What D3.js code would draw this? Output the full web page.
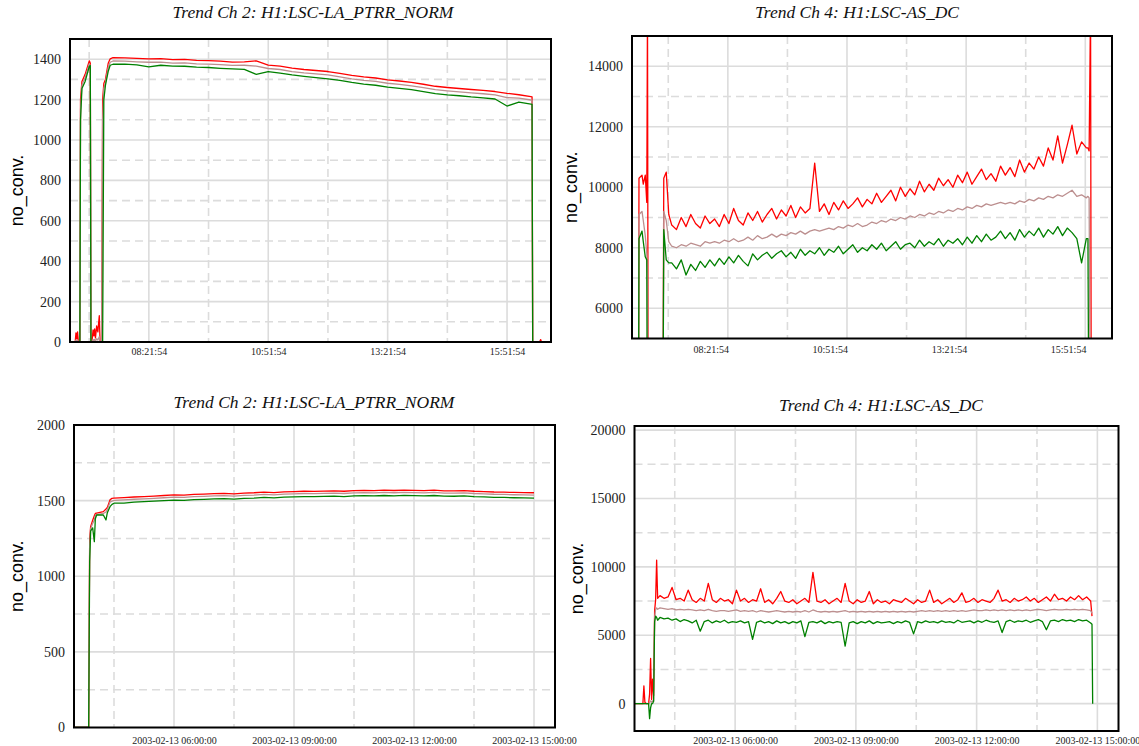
<!DOCTYPE html>
<html>
<head>
<meta charset="utf-8">
<script src="https://cdn.jsdelivr.net/npm/d3@7"></script>
<style>
  body { margin: 0; background: #fff; }
  svg { display: block; }
</style>
</head>
<body>
<div id="chart"></div>
<script>
// ---------- data ----------
// time axes
const topStart = "2003-02-13 06:42:50";
const topEnd = "2003-02-13 16:47:08";
const botStart = "2003-02-13 03:30:00";
const botEnd = "2003-02-13 15:31:30";

const topTicks = ["2003-02-13 08:21:54", "2003-02-13 10:51:54", "2003-02-13 13:21:54", "2003-02-13 15:51:54"];
const topGridDash = ["2003-02-13 07:06:54", "2003-02-13 09:36:54", "2003-02-13 12:06:54", "2003-02-13 14:36:54"];
const asTopGrid = ["2003-02-13 08:43:30", "2003-02-13 11:13:30", "2003-02-13 13:43:30", "2003-02-13 16:13:30"];
const asTopGridDash = ["2003-02-13 07:28:30", "2003-02-13 09:58:30", "2003-02-13 12:28:30", "2003-02-13 14:58:30"];
const botTicks = ["2003-02-13 06:00:00", "2003-02-13 09:00:00", "2003-02-13 12:00:00", "2003-02-13 15:00:00"];
const botGridDash = ["2003-02-13 04:30:00", "2003-02-13 07:30:00", "2003-02-13 10:30:00", "2003-02-13 13:30:00"];

// panel 1: Trend Ch 2 (top), minutes after topStart
const laTopMin = [0, 6.5, 7.5, 8.5, 9.5, 10.5, 12.4, 13.2, 15, 19, 24.3, 25.5, 26.3, 27.5, 29, 30, 31, 32, 33.5, 35, 36.8, 37.8, 39.8, 41, 42.5, 44.5, 48, 50.5,
  54, 69, 84, 99, 114, 129, 144, 159, 174, 189, 204, 219, 234, 249, 264, 279, 294, 309, 324, 339, 354, 369, 384, 399, 414, 429, 444, 459, 474, 489, 504, 519, 534, 549, 564, 579,
  580.5, 581.3, 590, 591.3, 592.3, 604.3];
const laTopMax = [0, 0, 45, 15, 50, 0, 0, 1200, 1290, 1325, 1392, 1380, 0, 0, 60, 30, 65, 20, 80, 50, 130, 0, 0, 1200, 1280, 1300, 1380, 1402,
  1408, 1407, 1404, 1402, 1403, 1398, 1399, 1394, 1393, 1390, 1386, 1387, 1392, 1371, 1366, 1356, 1349, 1344, 1339, 1330, 1320, 1312, 1307, 1298, 1292, 1285, 1276, 1266, 1260, 1255, 1250, 1246, 1240, 1231, 1224, 1215,
  1214, 0, 0, 12, 0, 0];
const laTopMean = [0, 0, 10, 3, 10, 0, 0, 1150, 1272, 1308, 1378, 1366, 0, 0, 12, 6, 13, 4, 16, 10, 26, 0, 0, 1100, 1255, 1285, 1360, 1385,
  1391, 1390, 1387, 1385, 1386, 1381, 1382, 1377, 1376, 1373, 1369, 1370, 1366, 1354, 1349, 1339, 1332, 1327, 1322, 1313, 1303, 1295, 1290, 1281, 1275, 1268, 1259, 1249, 1243, 1238, 1233, 1229, 1223, 1210, 1207, 1198,
  1197, 0, 0, 0, 0, 0];
const laTopMinV = [0, 0, 0, 0, 0, 0, 0, 1100, 1255, 1290, 1365, 1368, 0, 0, 0, 0, 0, 0, 0, 0, 0, 0, 0, 0, 1200, 1270, 1340, 1370,
  1375, 1376, 1372, 1362, 1370, 1366, 1365, 1361, 1359, 1355, 1352, 1350, 1325, 1338, 1331, 1322, 1315, 1309, 1303, 1295, 1285, 1277, 1271, 1262, 1256, 1249, 1240, 1230, 1223, 1219, 1213, 1209, 1203, 1168, 1188, 1178,
  1176, 0, 0, 0, 0, 0];

// panel 2: Trend Ch 4 (top), minutes after topStart
const asTopMin = [0, 7.9, 8.8, 12.6, 14.2, 16.7, 18.6, 19.5, 20.5, 38.7, 40, 43.1, 46.3,
  50, 56, 62, 68, 74, 80, 86, 92, 98, 104, 110, 116, 122, 128, 134, 140, 146, 152, 158, 164,
  170, 176, 182, 188, 194, 200, 206, 212, 218, 224, 230, 236, 242, 248, 254, 260, 266, 272, 278, 284,
  290, 296, 302, 308, 314, 320, 326, 332, 338, 344, 350, 356, 362, 368, 374, 380, 386, 392, 398, 404,
  410, 416, 422, 428, 434, 440, 446, 452, 458, 464, 470, 476, 482, 488, 494, 500, 506, 512, 518, 524,
  530, 536, 542, 548, 554, 560, 566, 572,
  574, 575.5, 577.3, 578.3, 604.3];
const asTopMax = [0, 0, 10300, 10400, 10100, 10400, 9500, 16000, 0, 0, 10300, 10500, 9100,
  8750, 8600, 9000, 8700, 9100, 8800, 8650, 9050, 8800, 8950, 8700, 9100, 8800, 9300, 8900, 8750, 9150, 8900, 9200, 8850,
  9100, 9300, 8950, 9250, 9050, 9400, 9000, 9350, 9150, 9300, 10800, 9200, 9450, 9100, 9500, 9250, 9550, 9300, 9450, 9650,
  9350, 9600, 9450, 9800, 9500, 9700, 9900, 9550, 10000, 9700, 9950, 9750, 10200, 9850, 10100, 9900, 10300, 10050, 10250, 10000,
  10400, 10150, 10500, 10100, 10350, 10600, 10250, 10450, 10200, 10700, 10400, 10650, 10350, 10900, 10500, 10800, 10600, 11000, 10700, 11300,
  10900, 11700, 10800, 11400, 12050, 11100, 11500, 11300,
  11300, 11200, 16000, 0, 0];
const asTopMean = [0, 0, 9100, 9200, 8900, 8400, 7800, 7000, 0, 0, 9200, 8900, 8200,
  8050, 8000, 8100, 8050, 8150, 8100, 8050, 8200, 8150, 8200, 8150, 8250, 8200, 8300, 8200, 8250, 8350, 8250, 8400, 8300,
  8350, 8450, 8350, 8450, 8400, 8500, 8450, 8550, 8450, 8550, 8600, 8550, 8600, 8650, 8600, 8700, 8650, 8750, 8700, 8800,
  8700, 8750, 8850, 8800, 8900, 8850, 8950, 8900, 9000, 8950, 9050, 9000, 9100, 9050, 9150, 9100, 9200, 9150, 9250, 9200,
  9300, 9250, 9350, 9300, 9400, 9350, 9450, 9400, 9450, 9500, 9450, 9500, 9450, 9550, 9500, 9600, 9550, 9650, 9600, 9700,
  9650, 9750, 9700, 9800, 9900, 9700, 9750, 9650,
  9700, 9650, 0, 0, 0];
const asTopMinV = [0, 0, 8300, 8550, 8200, 7700, 7600, 0, 0, 0, 8600, 7600, 7500,
  7500, 7300, 7600, 7100, 7450, 7250, 7550, 7350, 7600, 7400, 7650, 7450, 7700, 7500, 7750, 7550, 7400, 7800, 7600, 7750,
  7850, 7650, 7800, 7900, 7700, 7850, 7650, 7950, 7750, 7900, 7800, 8000, 7750, 7950, 7850, 8050, 7800, 7950, 8100, 7850,
  8000, 7900, 8100, 7950, 8150, 7900, 8050, 8200, 7950, 8100, 8150, 8000, 8250, 8050, 8200, 8100, 8300, 8050, 8250, 8150,
  8300, 8100, 8350, 8150, 8400, 8200, 8450, 8250, 8350, 8550, 8300, 8500, 8250, 8600, 8350, 8550, 8400, 8650, 8350, 8600,
  8450, 8700, 8400, 8650, 8500, 8300, 7500, 8300,
  8300, 0, 0, 0, 0];

// panel 3: Trend Ch 2 (bottom), minutes after botStart
const laBotMin = [0, 22, 23.5, 25, 28, 30.5, 32, 34, 44, 48, 50, 54, 57,
  60, 75, 90, 105, 120, 135, 150, 165, 180, 195, 210, 225, 240, 255, 270, 285, 300, 315, 330, 345,
  360, 375, 390, 405, 420, 435, 450, 465, 480, 495, 510, 525, 540, 555, 570, 585, 600, 615, 630, 645,
  660, 675, 690];
const laBotMax = [0, 0, 1250, 1330, 1370, 1400, 1415, 1418, 1427, 1445, 1455, 1505, 1515,
  1516, 1520, 1524, 1527, 1530, 1534, 1538, 1537, 1541, 1543, 1546, 1548, 1545, 1550, 1552, 1556, 1553, 1558, 1560, 1562,
  1561, 1563, 1565, 1562, 1566, 1568, 1566, 1569, 1567, 1570, 1568, 1566, 1569, 1565, 1564, 1566, 1562, 1560, 1557, 1556,
  1554, 1553, 1552];
const laBotMean = [0, 0, 1200, 1315, 1350, 1370, 1400, 1408, 1415, 1425, 1440, 1490, 1497,
  1501, 1505, 1509, 1512, 1515, 1519, 1523, 1522, 1526, 1528, 1531, 1533, 1530, 1535, 1537, 1541, 1538, 1543, 1545, 1547,
  1546, 1548, 1550, 1547, 1551, 1553, 1551, 1554, 1552, 1555, 1553, 1551, 1554, 1550, 1549, 1551, 1547, 1545, 1542, 1541,
  1539, 1538, 1537];
const laBotMinV = [0, 0, 1100, 1300, 1320, 1229, 1380, 1405, 1405, 1372, 1420, 1460, 1475,
  1483, 1484, 1490, 1494, 1497, 1500, 1503, 1502, 1506, 1508, 1511, 1513, 1510, 1515, 1517, 1521, 1518, 1523, 1525, 1527,
  1526, 1528, 1530, 1527, 1531, 1533, 1531, 1534, 1532, 1535, 1533, 1531, 1534, 1530, 1529, 1531, 1527, 1525, 1522, 1521,
  1519, 1518, 1517];

// panel 4: Trend Ch 4 (bottom), minutes after botStart
const asBotMin = [0, 12.5, 14, 15.5, 17.7, 21, 22.5, 24, 25.5, 27, 28.5, 30, 31.5, 33, 34.5,
  38, 44, 50, 56, 62, 68, 74, 80, 86, 92, 98, 104, 110, 116, 122, 128, 134, 140, 146, 152,
  158, 164, 170, 176, 182, 188, 194, 200, 206, 212, 218, 224, 230, 236, 242, 248, 254, 260, 266, 272,
  278, 284, 290, 296, 302, 308, 314, 320, 326, 332, 338, 344, 350, 356, 362, 368, 374, 380, 386, 392,
  398, 404, 410, 416, 422, 428, 434, 440, 446, 452, 458, 464, 470, 476, 482, 488, 494, 500, 506, 512,
  518, 524, 530, 536, 542, 548, 554, 560, 566, 572, 578, 584, 590, 596, 602, 608, 614, 620, 626, 632,
  638, 644, 650, 656, 662, 668, 674, 680,
  682, 683];
const asBotMax = [0, 0, 1300, 100, 0, 0, 700, 3300, 300, 1800, 600, 6800, 7600, 10500, 7700,
  7900, 7700, 7800, 8500, 7600, 7700, 7500, 8300, 7600, 7400, 7700, 7500, 8800, 7600, 7400, 7700, 7500, 7600, 7300, 8300,
  7500, 7700, 7400, 7600, 7500, 8400, 7400, 7600, 7300, 7700, 8200, 7500, 7400, 7600, 7300, 7500, 7700, 7400, 9600, 7500,
  7400, 7600, 7300, 7500, 7700, 7400, 8800, 7500, 7300, 7600, 7400, 7500, 8200, 7300, 7600, 7400, 7500, 7300, 7600, 7500,
  7400, 7700, 7500, 7300, 7600, 7400, 7500, 8300, 7400, 7600, 7300, 7500, 7700, 7400, 7600, 8100, 7400, 7500, 7700, 7400,
  7600, 7500, 7400, 7700, 8300, 7500, 7600, 7400, 7700, 7500, 7600, 7800, 7500, 7700, 7400, 7600, 7800, 7500, 8000, 7600,
  7700, 7500, 7800, 7600, 7900, 7600, 7800, 7500,
  6400, null];
const asBotMean = [0, 0, 0, 0, 0, 0, 100, 200, 100, 200, 150, 6300, 6900, 7000, 6900,
  7000, 6950, 6900, 6950, 6850, 6900, 6850, 6900, 6850, 6800, 6850, 6800, 6900, 6800, 6750, 6800, 6800, 6750, 6800, 6850,
  6750, 6800, 6750, 6800, 6700, 6800, 6750, 6700, 6750, 6800, 6750, 6700, 6750, 6700, 6750, 6700, 6800, 6700, 6850, 6750,
  6700, 6750, 6700, 6750, 6700, 6750, 6800, 6700, 6750, 6700, 6750, 6700, 6750, 6700, 6750, 6700, 6750, 6700, 6750, 6700,
  6750, 6700, 6750, 6700, 6750, 6800, 6750, 6800, 6750, 6800, 6750, 6800, 6750, 6800, 6750, 6800, 6750, 6800, 6850, 6800,
  6800, 6850, 6800, 6850, 6800, 6850, 6800, 6850, 6800, 6850, 6800, 6850, 6800, 6850, 6900, 6850, 6800, 6850, 6900, 6850,
  6850, 6900, 6850, 6900, 6850, 6900, 6850, 6800,
  6600, null];
const asBotMinV = [0, 0, 0, 0, 0, 0, -1100, -300, 0, 0, 200, 6000, 6400, 6300, 6100,
  6300, 6200, 6250, 6100, 6200, 6000, 6150, 6050, 5900, 6100, 5300, 6000, 6100, 5900, 6050, 5950, 6100, 5900, 6000, 5950,
  6050, 5900, 6000, 4700, 5950, 6050, 5900, 6000, 5850, 6050, 5900, 6000, 5850, 6000, 5900, 6050, 4900, 5950, 6000, 5900,
  6050, 5850, 6000, 5900, 6000, 5950, 4200, 5900, 6000, 5850, 6000, 5900, 6050, 5850, 6000, 5900, 5950, 6000, 5850, 6000,
  5900, 6050, 5950, 5100, 6000, 5900, 6050, 5950, 6000, 5900, 6050, 5950, 6000, 5900, 6100, 5950, 6000, 6050, 5900, 6050,
  5950, 6100, 6000, 5950, 6050, 5200, 6000, 6100, 5950, 6050, 6000, 6100, 5950, 6050, 6150, 6000, 5400, 6050, 6100, 6000,
  6150, 6050, 6100, 6000, 6150, 6050, 6100, 5900,
  5800, 0];

// y axis ticks and grid values
const laTopYTicks = [0, 200, 400, 600, 800, 1000, 1200, 1400];
const laTopYDash = [100, 300, 500, 700, 900, 1100, 1300];
const asTopYTicks = [6000, 8000, 10000, 12000, 14000];
const asTopYDash = [7000, 9000, 11000, 13000];
const laBotYTicks = [0, 500, 1000, 1500, 2000];
const laBotYDash = [250, 750, 1250, 1750];
const asBotYTicks = [0, 5000, 10000, 15000, 20000];
const asBotYDash = [2500, 7500, 12500, 17500];

const titleLA = "Trend Ch 2: H1:LSC-LA_PTRR_NORM";
const titleAS = "Trend Ch 4: H1:LSC-AS_DC";
const yLabel = "no_conv.";

// ---------- layout ----------
const serif = "'Liberation Serif', 'Times New Roman', serif";
const sans = "'Liberation Sans', Arial, sans-serif";
const parse = d3.timeParse("%Y-%m-%d %H:%M:%S");

const panels = [
  { title: titleLA, tx: 313, ty: 18, lx: 17, left: 70, top: 39, width: 481, height: 303,
    start: topStart, end: topEnd, yDomain: [0, 1500], yTicks: laTopYTicks, yDash: laTopYDash,
    xTicks: topTicks, xGrid: topTicks, xDash: topGridDash, fmt: "%H:%M:%S", pad: 6,
    mins: laTopMin, max: laTopMax, mean: laTopMean, min: laTopMinV },
  { title: titleAS, tx: 857, ty: 18, lx: 571, left: 632, top: 36, width: 480, height: 302.5,
    start: topStart, end: topEnd, yDomain: [5000, 15000], yTicks: asTopYTicks, yDash: asTopYDash,
    xTicks: topTicks, xGrid: asTopGrid, xDash: asTopGridDash, fmt: "%H:%M:%S", pad: 7,
    mins: asTopMin, max: asTopMax, mean: asTopMean, min: asTopMinV },
  { title: titleLA, tx: 314, ty: 408, lx: 17, left: 74, top: 425, width: 481, height: 302.5,
    start: botStart, end: botEnd, yDomain: [0, 2000], yTicks: laBotYTicks, yDash: laBotYDash,
    xTicks: botTicks, xGrid: botTicks, xDash: botGridDash, fmt: "%Y-%m-%d %H:%M:%S", pad: 9,
    mins: laBotMin, max: laBotMax, mean: laBotMean, min: laBotMinV },
  { title: titleAS, tx: 881, ty: 411, lx: 577, left: 634.5, top: 426, width: 484, height: 305,
    start: botStart, end: botEnd, yDomain: [-2000, 20300], yTicks: asBotYTicks, yDash: asBotYDash,
    xTicks: botTicks, xGrid: botTicks, xDash: botGridDash, fmt: "%Y-%m-%d %H:%M:%S", pad: 6,
    mins: asBotMin, max: asBotMax, mean: asBotMean, min: asBotMinV }
];

const svg = d3.select("#chart").append("svg")
  .attr("width", 1139)
  .attr("height", 746);

panels.forEach((p, i) => drawPanel(p, i));

function drawPanel(p, i) {
  const t0 = parse(p.start);
  const x = d3.scaleTime()
    .domain([t0, parse(p.end)])
    .range([p.left, p.left + p.width]);
  const y = d3.scaleLinear()
    .domain(p.yDomain)
    .range([p.top + p.height, p.top]);

  const g = svg.append("g");

  g.append("clipPath").attr("id", "clip" + i)
    .append("rect")
      .attr("x", p.left).attr("y", p.top)
      .attr("width", p.width).attr("height", p.height);

  // grid
  const grid = g.append("g")
    .attr("stroke", "#dcdcdc")
    .attr("stroke-width", 1.6);

  grid.selectAll(".hs").data(p.yTicks.filter(v => v > p.yDomain[0] && v < p.yDomain[1]))
    .join("line").attr("class", "hs")
      .attr("x1", p.left).attr("x2", p.left + p.width)
      .attr("y1", d => y(d)).attr("y2", d => y(d));
  grid.selectAll(".hd").data(p.yDash)
    .join("line").attr("class", "hd")
      .attr("stroke-dasharray", "8,5")
      .attr("x1", p.left).attr("x2", p.left + p.width)
      .attr("y1", d => y(d)).attr("y2", d => y(d));
  grid.selectAll(".vs").data(p.xGrid.map(parse))
    .join("line").attr("class", "vs")
      .attr("x1", d => x(d)).attr("x2", d => x(d))
      .attr("y1", p.top).attr("y2", p.top + p.height);
  grid.selectAll(".vd").data(p.xDash.map(parse))
    .join("line").attr("class", "vd")
      .attr("stroke-dasharray", "8,5")
      .attr("x1", d => x(d)).attr("x2", d => x(d))
      .attr("y1", p.top).attr("y2", p.top + p.height);

  // series: max (red), mean (brown), min (green)
  const series = [
    { vals: p.max, color: "#ff0000" },
    { vals: p.mean, color: "#bc8f8f" },
    { vals: p.min, color: "#008000" }
  ];
  const line = d3.line()
    .defined(d => d.v != null)
    .x(d => x(d.t))
    .y(d => y(d.v));

  g.append("g")
    .attr("clip-path", `url(#clip${i})`)
    .selectAll("path")
    .data(series)
    .join("path")
      .attr("fill", "none")
      .attr("stroke", d => d.color)
      .attr("stroke-width", 1.3)
      .attr("stroke-linejoin", "round")
      .attr("d", s => line(p.mins.map((m, j) => ({ t: new Date(+t0 + m * 60000), v: s.vals[j] }))));

  // frame
  g.append("rect")
    .attr("x", p.left).attr("y", p.top)
    .attr("width", p.width).attr("height", p.height)
    .attr("fill", "none")
    .attr("stroke", "#000")
    .attr("stroke-width", 2);

  // axes
  const xAxis = g.append("g")
    .attr("transform", `translate(0,${p.top + p.height})`)
    .call(d3.axisBottom(x)
      .tickValues(p.xTicks.map(parse))
      .tickFormat(d3.timeFormat(p.fmt))
      .tickSize(0)
      .tickPadding(p.pad));
  xAxis.select(".domain").remove();
  xAxis.attr("font-family", serif).attr("font-size", 10);
  xAxis.selectAll("text").attr("fill", "#222");

  const yAxis = g.append("g")
    .attr("transform", `translate(${p.left},0)`)
    .call(d3.axisLeft(y)
      .tickValues(p.yTicks)
      .tickFormat(d3.format("d"))
      .tickSize(0)
      .tickPadding(9));
  yAxis.select(".domain").remove();
  yAxis.attr("font-family", serif).attr("font-size", 14);
  yAxis.selectAll("text").attr("fill", "#222");

  // titles
  g.append("text")
    .attr("x", p.tx).attr("y", p.ty)
    .attr("text-anchor", "middle")
    .attr("font-family", serif)
    .attr("font-style", "italic")
    .attr("font-size", 17.5)
    .attr("fill", "#111")
    .text(p.title);

  g.append("text")
    .attr("transform", `translate(${p.lx},${p.top + p.height / 2}) rotate(-90)`)
    .attr("text-anchor", "middle")
    .attr("dy", "0.35em")
    .attr("font-family", sans)
    .attr("font-size", 18)
    .attr("fill", "#000")
    .text(yLabel);
}
</script>
</body>
</html>
